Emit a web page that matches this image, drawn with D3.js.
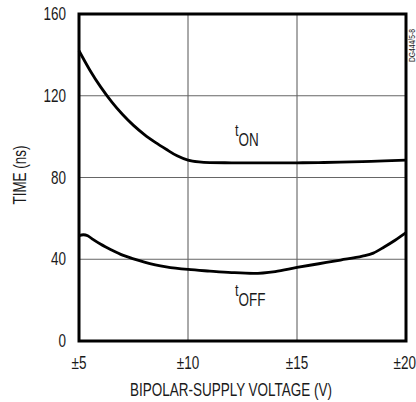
<!DOCTYPE html>
<html>
<head>
<meta charset="utf-8">
<script src="https://cdn.jsdelivr.net/npm/d3@7"></script>
<style>
  body { margin: 0; background: #fff; }
  text { font-family: "Liberation Sans", Arial, sans-serif; fill: #1a1a1a; }
</style>
</head>
<body>
<script>
"use strict";

// supply voltage (±V) and switching times (ns)
var tOnVolts  = [5, 5.5, 6, 6.5, 7, 7.5, 8, 8.5, 9, 9.5, 10, 10.5, 11, 12, 13, 14, 15, 16, 17, 18, 19, 20];
var tOnTimes  = [142, 132.5, 124.2, 117, 110.8, 105.5, 101, 97.2, 93.8, 90.6, 88.5, 87.6, 87.3, 87.2, 87.2, 87.2, 87.2, 87.3, 87.5, 87.8, 88.1, 88.5];
var tOffVolts = [5, 5.2, 5.4, 5.64, 6, 6.5, 7, 7.5, 8, 8.5, 9, 10, 11, 12, 13, 14, 15, 16, 17, 18, 18.5, 19, 19.5, 20];
var tOffTimes = [51.5, 52, 51.5, 49.7, 47.3, 44.5, 42, 40.2, 38.6, 37.3, 36.3, 35, 34.2, 33.5, 33.1, 34, 36, 37.8, 39.6, 41.5, 43, 46, 49.3, 53];
var xTicks = [5, 10, 15, 20];
var yTicks = [0, 40, 80, 120, 160];

var W = 416, H = 402;
var m = { left: 79, right: 10, top: 14, bottom: 61 };
var SX = 0.75; // squeeze to mimic a condensed face

var svg = d3.select("body").append("svg").attr("width", W).attr("height", H);

var x = d3.scaleLinear().domain([5, 20]).range([m.left, W - m.right]);
var y = d3.scaleLinear().domain([0, 160]).range([H - m.bottom, m.top]);

function label(px, py, str, size, anchor, rot){
    var g = svg.append("g").attr("transform", "translate(" + px + "," + py + ")" + (rot ? " rotate(" + rot + ")" : "") + " scale(" + SX + ",1)");
    return g.append("text").attr("font-size", size).attr("text-anchor", anchor || "start").text(str);
}

// grid
svg.append("g").selectAll("line").data(xTicks.slice(1, -1)).enter().append("line")
    .attr("x1", function(d){ return x(d); }).attr("x2", function(d){ return x(d); })
    .attr("y1", y(0)).attr("y2", y(160))
    .attr("stroke", "#555").attr("stroke-width", 1);
svg.append("g").selectAll("line").data(yTicks.slice(1, -1)).enter().append("line")
    .attr("x1", x(5)).attr("x2", x(20))
    .attr("y1", function(d){ return y(d); }).attr("y2", function(d){ return y(d); })
    .attr("stroke", "#666").attr("stroke-width", 1);

// curves
var line = d3.line().curve(d3.curveMonotoneX)
    .x(function(d){ return x(d[0]); }).y(function(d){ return y(d[1]); });
svg.append("path").datum(d3.zip(tOnVolts, tOnTimes)).attr("d", line)
    .attr("fill", "none").attr("stroke", "#000").attr("stroke-width", 2.8);
svg.append("path").datum(d3.zip(tOffVolts, tOffTimes)).attr("d", line)
    .attr("fill", "none").attr("stroke", "#000").attr("stroke-width", 2.8);

// frame
svg.append("rect").attr("x", x(5)).attr("y", y(160))
    .attr("width", x(20) - x(5)).attr("height", y(0) - y(160))
    .attr("fill", "none").attr("stroke", "#000").attr("stroke-width", 3);

// tick labels
yTicks.forEach(function(d){ label(x(5) - 13, y(d) + 6, d, 18, "end"); });
xTicks.forEach(function(d){
    if (d === 20) label(W, y(0) + 28, "±" + d, 18, "end");
    else label(x(d), y(0) + 28, "±" + d, 18, "middle");
});

// axis titles
label(231, 396, "BIPOLAR-SUPPLY VOLTAGE (V)", 18, "middle");
label(26, 175, "TIME (ns)", 18, "middle", -90);

// curve labels
function curveLabel(px, py, sub){
    var t = label(px, py, "t", 17, "start");
    t.append("tspan").attr("dy", 10).attr("font-size", 18).text(sub);
}
curveLabel(235, 136, "ON");
curveLabel(235, 296, "OFF");

label(415, 62, "DG444/5-8", 9, "start", -90);
</script>
</body>
</html>
